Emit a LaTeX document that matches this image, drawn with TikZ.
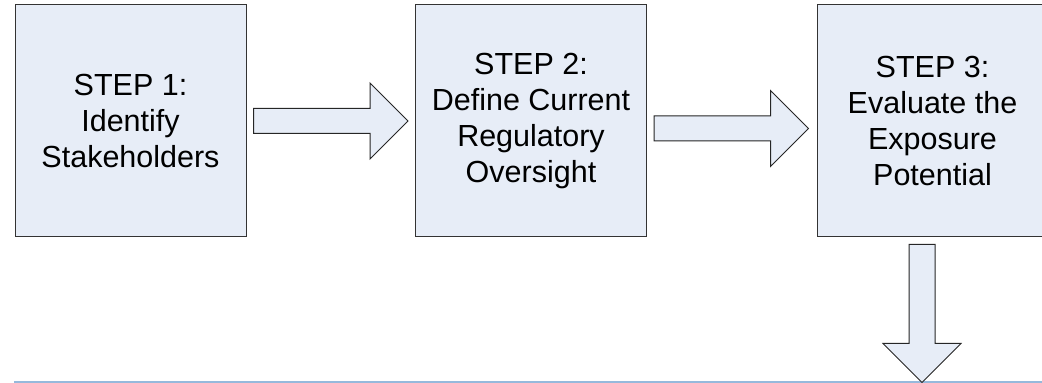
\documentclass[tikz,border=0pt]{standalone}
\usepackage{fontspec}
\setmainfont{Liberation Sans}
\usetikzlibrary{calc}
\definecolor{stepfill}{RGB}{231,237,247}
\definecolor{rulecol}{RGB}{150,185,220}
\tikzset{
  stepbox/.style={draw=black!80, line width=1pt, fill=stepfill, minimum width=231pt, minimum height=232pt, inner sep=0pt, align=center, font=\fontsize{30.5}{36}\selectfont},
  blockarrow/.style={draw=black!85, line width=1pt, fill=stepfill, line join=miter}
}
\begin{document}
\begin{tikzpicture}[x=1pt,y=1pt]
\clip (0,0) rectangle (1042,383);
% steps
\node[stepbox] (s1) at (130.5,262) {STEP 1:\\Identify\\Stakeholders};
\node[stepbox] (s2) at (531,262) {STEP 2:\\Define Current\\Regulatory\\Oversight};
\node[stepbox] (s3) at (932.5,262) {STEP 3:\\Evaluate the\\Exposure\\Potential};
% arrows between steps
\foreach \a/\b/\dy/\gap in {s1/s2/0/7, s2/s3/-7.5/8}{
  \coordinate (tail) at ($(\a.east)+(7,\dy)$);
  \coordinate (tip) at ($(\b.west)+(-\gap,\dy)$);
  \draw[blockarrow] ($(tail)+(0,12.5)$) -- ($(tip)+(-38,12.5)$) -- ($(tip)+(-38,38)$) -- (tip)
    -- ($(tip)+(-38,-38)$) -- ($(tip)+(-38,-12.5)$) -- ($(tail)+(0,-12.5)$) -- cycle;
}
% bottom rule
\coordinate (r0) at (14,1);
\coordinate (r1) at (1042,1);
\draw[rulecol, line width=2pt] (r0) -- (r1);
% arrow down from step 3
\coordinate (dtail) at ($(s3.south)+(-10.5,-7)$);
\coordinate (dtip) at ($(dtail)+(0,-138)$);
\draw[blockarrow] ($(dtail)+(-13,0)$) -- ($(dtip)+(-13,39)$) -- ($(dtip)+(-39,39)$) -- (dtip)
  -- ($(dtip)+(39,39)$) -- ($(dtip)+(13,39)$) -- ($(dtail)+(13,0)$) -- cycle;
\end{tikzpicture}
\end{document}
